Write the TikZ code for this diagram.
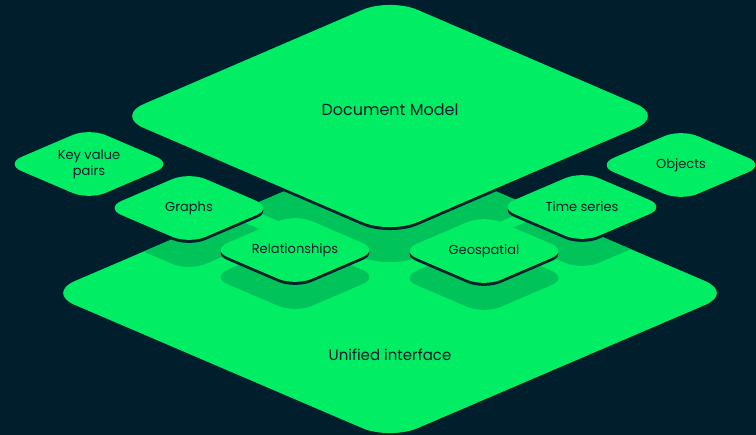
\documentclass[tikz,border=0pt]{standalone}
\usepackage{fontspec}
\setmainfont{Poppins}
\usetikzlibrary{shapes.geometric}
\definecolor{navy}{HTML}{001E2B}
\definecolor{leaf}{HTML}{00ED64}
\definecolor{leafshade}{HTML}{00C35A}
\tikzset{
	tile/.style={diamond, aspect=2.34, fill=leaf, inner sep=0pt, outer sep=0pt, rounded corners=18pt,
		minimum width=168pt, minimum height=72pt, text=navy, align=center,
		font=\fontsize{13}{16}\selectfont},
	bigtile/.style={tile, aspect=2.33, rounded corners=30pt},
	tileedge/.style={fill=navy},
	tileshade/.style={fill=leafshade},
	bigtext/.style={text=navy, inner sep=0pt, font=\fontsize{16}{19}\selectfont}
}
\begin{document}
\begin{tikzpicture}[x=1pt, y=-1pt]
	\useasboundingbox (0,0) rectangle (756,435);
	\fill[navy] (0,0) rectangle (756,435);
	% base platform
	\node (unified) [bigtile, minimum width=686pt, minimum height=294pt] at (390,293) {};
	\node (unifiedtext) [bigtext, font=\fontsize{15}{18}\selectfont] at (390,355) {Unified interface};
	% shadows fall only on the base platform
	\begin{scope}
		\clip[rounded corners=30pt] (unified.west) -- (unified.north) -- (unified.east) -- (unified.south) -- cycle;
		\node (docshade) [bigtile, tileshade, minimum width=548pt, minimum height=236pt] at (390,151) {};
		\foreach \name/\x/\y in {graphs/189/208, timeseries/582/207, relationships/295/250, geospatial/484/251}
			\node (\name-shade) [tile, tileshade] at (\x,\y+27) {};
	\end{scope}
	% top layer
	\node (doc-edge) [bigtile, tileedge, minimum width=548pt, minimum height=236pt] at (390,119) {};
	\node (doc) [bigtile, minimum width=548pt, minimum height=236pt] at (390,116) {};
	\node (doctext) [bigtext] at (390,110) {Document Model};
	% small tiles, back to front
	\foreach \name/\x/\y/\txt in {keyvalue/89/164/{Key value\\pairs}, objects/681/165/Objects,
		graphs/189/208/Graphs, timeseries/582/207/Time series,
		relationships/295/250/Relationships, geospatial/484/251/Geospatial} {
		\node (\name-edge) [tile, tileedge] at (\x,\y+3) {};
		\node (\name) [tile] at (\x,\y) {\txt};
	}
\end{tikzpicture}
\end{document}
